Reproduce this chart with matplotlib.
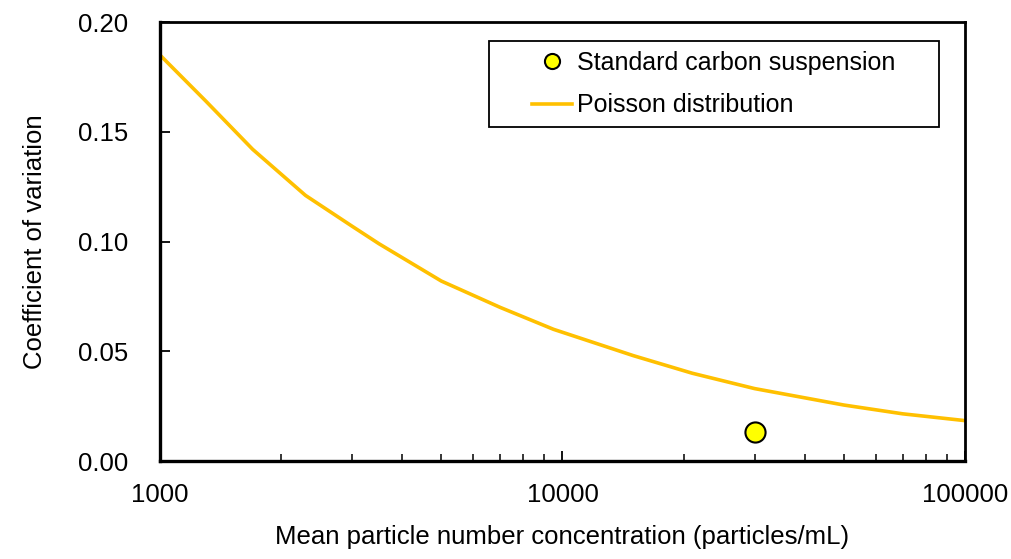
import numpy as np
import matplotlib.pyplot as plt
from matplotlib.patches import Rectangle
from matplotlib.ticker import FixedLocator, NullFormatter, LogLocator

plt.rcParams['font.family'] = ['Liberation Sans', 'DejaVu Sans']

poisson_conc = [1000, 1300, 1700, 2300, 3000, 3500, 5000, 7000, 9500,
                15000, 21000, 30000, 50000, 70000, 100000]
poisson_cv = [0.185, 0.164, 0.142, 0.121, 0.107, 0.099, 0.082, 0.070, 0.060,
              0.048, 0.040, 0.033, 0.0255, 0.0215, 0.0184]

# measured standard carbon suspension
carbon_conc = [30000]
carbon_cv = [0.0132]

fig = plt.figure(figsize=(10.12, 5.59), dpi=100)
ax = fig.add_axes([0.158, 0.1753, 0.7956, 0.7853])

ax.plot(carbon_conc, carbon_cv, 'o', ms=14.5, mfc='#ffff00', mec='black', mew=1.5,
        label='Standard carbon suspension', zorder=3)
ax.plot(poisson_conc, poisson_cv, color='#ffc000', lw=2.6, label='Poisson distribution')

ax.set_xscale('log')
ax.set_xlim(1000, 100000)
ax.set_ylim(0, 0.20)
ax.xaxis.set_major_locator(FixedLocator([1000, 10000, 100000]))
ax.set_xticklabels(['1000', '10000', '100000'])
ax.xaxis.set_minor_locator(LogLocator(base=10, subs=np.arange(2, 10)))
ax.xaxis.set_minor_formatter(NullFormatter())
ax.set_yticks([0, 0.05, 0.10, 0.15, 0.20])
ax.set_yticklabels(['0.00', '0.05', '0.10', '0.15', '0.20'])

ax.tick_params(axis='both', which='major', direction='in', length=7, width=1.3,
               labelsize=18.5, color='black')
ax.tick_params(axis='x', which='major', pad=16)
ax.tick_params(axis='y', which='major', pad=23)
ax.tick_params(axis='x', which='minor', direction='in', length=5, width=1.1)
for side in ['left', 'bottom']:
    ax.spines[side].set_linewidth(2.4)
for side in ['top', 'right']:
    ax.spines[side].set_linewidth(2.0)

ax.set_xlabel('Mean particle number concentration (particles/mL)', fontsize=18.5, labelpad=13)
ax.set_ylabel('Coefficient of variation', fontsize=18.5, labelpad=22)

# legend box is wider than the entries, so draw the frame separately
box = Rectangle((0.4087, 0.761), 0.559, 0.196, transform=ax.transAxes,
                facecolor='white', edgecolor='black', lw=1.3, zorder=4)
ax.add_patch(box)
leg = ax.legend(loc='center', bbox_to_anchor=(0.6882, 0.859), fontsize=18,
                frameon=False, handlelength=1.6, handletextpad=0.2, labelspacing=0.75,
                markerscale=0.75, borderpad=0, borderaxespad=0)
leg.set_zorder(5)

fig.savefig('out.png', dpi=100)
